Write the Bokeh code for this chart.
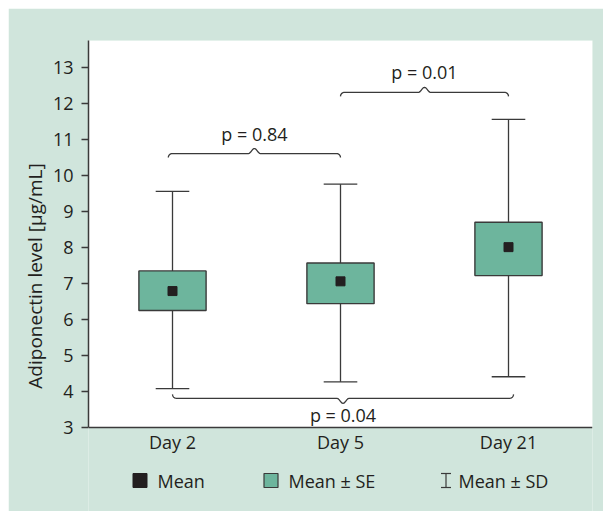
import numpy as np
from bokeh.plotting import figure
from bokeh.models import Range1d, FixedTicker
from bokeh.core.properties import value
from bokeh.embed import file_html
from bokeh.resources import INLINE

# ---- data ----
days = ["Day 2", "Day 5", "Day 21"]
mean = [6.79, 7.06, 8.01]
se_low = [6.25, 6.44, 7.22]
se_high = [7.35, 7.57, 8.70]
sd_low = [4.08, 4.27, 4.41]
sd_high = [9.56, 9.76, 11.56]
y_ticks = [3, 4, 5, 6, 7, 8, 9, 10, 11, 12, 13]
p_labels = ["p = 0.84", "p = 0.01", "p = 0.04"]
p_pairs = [(0, 1), (1, 2), (0, 2)]
p_levels = [10.61, 12.31, 3.81]
p_dirs = [1, 1, -1]          # 1: peak up / ends down, -1: peak down / ends up
legend_labels = ["Mean", "Mean \u00b1 SE", "Mean \u00b1 SD"]
y_title = "Adiponectin level [\u03bcg/mL]"

# ---- style ----
PANEL = "#d0e5dc"
BOX = "#6db59d"
DARK = "#231f20"
LINE = "#3a3a3a"
FONT = "Open Sans"
FS = "18px"

Y0, Y1 = 3, 13.75          # axis extent
X0, X1 = 0, 3
PXX = 1.0 / 168.0          # data units per pixel (x)
PXY = 1.0 / 36.0           # data units per pixel (y)

xs = [i + 0.5 for i in range(len(days))]

p = figure(width=595, height=503, x_range=Range1d(X0, X1),
           y_range=Range1d(Y0 - 84 * PXY, Y1),
           output_backend="svg", toolbar_location=None, margin=(8, 0, 0, 8),
           min_border_left=80, min_border_right=11, min_border_top=32, min_border_bottom=0,
           background_fill_color=PANEL, border_fill_color=PANEL, outline_line_color=None)
p.grid.visible = False

# white plotting area
p.quad(left=[X0], right=[X1], bottom=[Y0], top=[Y1], fill_color="white", line_color=None)

# whiskers (mean +/- SD)
cap = 0.1
p.segment(x0=xs, y0=sd_low, x1=xs, y1=sd_high, line_color=LINE, line_width=1.3)
p.segment(x0=[x - cap for x in xs], y0=sd_high, x1=[x + cap for x in xs], y1=sd_high,
          line_color=LINE, line_width=1.3)
p.segment(x0=[x - cap for x in xs], y0=sd_low, x1=[x + cap for x in xs], y1=sd_low,
          line_color=LINE, line_width=1.3)
# boxes (mean +/- SE)
p.vbar(x=xs, width=0.4, bottom=se_low, top=se_high, fill_color=BOX, line_color=LINE, line_width=1.4)
# mean
p.scatter(x=xs, y=mean, marker="square", size=9, fill_color=DARK, line_color=DARK)

# braces with p-values
def brace(x0, x1, y, d):
    xm = 0.5 * (x0 + x1)
    r = 4
    phi = np.linspace(0, np.pi / 2, 7)
    lx = x0 + (r - r * np.cos(phi)) * PXX
    ly = y - d * (r - r * np.sin(phi)) * PXY
    t = np.linspace(0, 1, 9)
    mlx = xm - (1 - t) * 6 * PXX
    mly = y + d * 5 * np.sin(t * np.pi / 2) ** 2 * PXY
    mrx = xm + t * 6 * PXX
    mry = mly[::-1]
    rx = x1 - (r - r * np.cos(phi[::-1])) * PXX
    ry = y - d * (r - r * np.sin(phi[::-1])) * PXY
    bx = np.concatenate([lx, mlx, mrx[1:], rx])
    by = np.concatenate([ly, mly, mry[1:], ry])
    return list(bx), list(by)

bxs, bys, tx, ty = [], [], [], []
pads = [(-0.025, 0.0), (0.0, 0.0), (0.0, 0.03)]
for (a, b), lev, d, pad in zip(p_pairs, p_levels, p_dirs, pads):
    x0, x1 = xs[a] + pad[0], xs[b] + pad[1]
    bx, by = brace(x0, x1, lev, d)
    bxs.append(bx)
    bys.append(by)
    tx.append(0.5 * (x0 + x1))
    ty.append(lev + (20 if d > 0 else -17) * PXY)
p.multi_line(xs=bxs, ys=bys, line_color=LINE, line_width=1.3)
p.text(x=tx, y=ty, text=p_labels, text_font=value(FONT), text_font_size=FS,
       text_color=DARK, text_align="center", text_baseline="middle")

# axes
p.yaxis.bounds = (Y0, Y1)
p.yaxis.ticker = FixedTicker(ticks=y_ticks)
p.yaxis.major_tick_out = 7
p.yaxis.major_tick_in = 0
p.yaxis.minor_tick_line_color = None
p.yaxis.major_label_standoff = 8
p.yaxis.major_tick_line_color = LINE
p.yaxis.major_tick_line_width = 1.3
p.yaxis.axis_label = y_title
p.yaxis.axis_label_standoff = 2
p.yaxis.axis_label_text_font = FONT
p.yaxis.axis_label_text_font_size = "19px"
p.yaxis.axis_label_text_font_style = "normal"
p.yaxis.axis_label_text_color = DARK

p.xaxis.fixed_location = Y0
p.xaxis.bounds = (X0, X1)
p.xaxis.ticker = FixedTicker(ticks=xs)
p.xaxis.major_label_overrides = {x: d for x, d in zip(xs, days)}
p.xaxis.major_tick_line_color = None
p.xaxis.major_tick_out = 0
p.xaxis.minor_tick_line_color = None
p.xaxis.major_label_standoff = 2
for ax in (p.xaxis, p.yaxis):
    ax.axis_line_color = LINE
    ax.axis_line_width = 1.5
    ax.major_label_text_font = FONT
    ax.major_label_text_font_size = FS
    ax.major_label_text_color = DARK

# legend drawn in the panel below the axis (pixel offsets from frame left / axis line)
def lx(px):
    return X0 + (px - 88) * PXX

leg_y = Y0 - 53 * PXY
p.scatter(x=[lx(139.5)], y=[leg_y], marker="square", size=14, fill_color=DARK, line_color=DARK)
p.scatter(x=[lx(270.5)], y=[leg_y], marker="square", size=14, fill_color=BOX, line_color=LINE,
          line_width=1.2)
ib = lx(445.5)
p.segment(x0=[ib, ib - 5 * PXX, ib - 5 * PXX],
          y0=[leg_y - 7 * PXY, leg_y + 7 * PXY, leg_y - 7 * PXY],
          x1=[ib, ib + 5 * PXX, ib + 5 * PXX],
          y1=[leg_y + 7 * PXY, leg_y + 7 * PXY, leg_y - 7 * PXY],
          line_color=LINE, line_width=1.2)
p.text(x=[lx(157), lx(288), lx(458)], y=[leg_y] * 3, text=legend_labels, text_font=value(FONT),
       text_font_size=FS, text_color=DARK, text_align="left", text_baseline="middle")

open("out.html", "w").write(file_html(p, INLINE))
